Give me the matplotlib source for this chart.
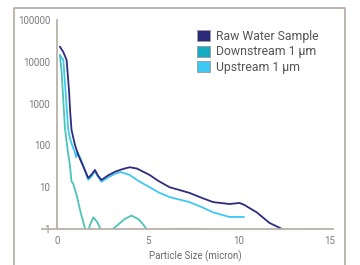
import matplotlib
matplotlib.use("Agg")
import matplotlib.pyplot as plt
from matplotlib.lines import Line2D
from matplotlib.patches import Patch
import numpy as np

plt.rcParams['font.family'] = ['Roboto', 'DejaVu Sans']

raw_x = [0.16, 0.35, 0.53, 0.66, 0.73, 0.8, 0.99, 1.17, 1.4, 1.72, 1.9, 2.09, 2.25, 2.45,
         2.8, 3.2, 3.6, 4.0, 4.4, 5.1, 5.6, 6.2, 7.3, 8.0, 8.6, 9.5, 10.05, 10.3, 11.0, 11.7, 12.4]
raw_y = [23000, 17000, 11000, 2100, 600, 234, 102, 59, 35, 16.6, 20, 25.8, 19, 14.9,
         19, 23.5, 27, 30, 28, 19.6, 14, 10, 7.3, 5.5, 4.4, 3.96, 4.2, 3.8, 2.5, 1.4, 1.0]

up_x = [0.16, 0.35, 0.53, 0.62, 0.75, 0.9, 0.97, 1.05, 1.13, 1.3, 1.45, 1.72, 1.9, 2.09,
        2.25, 2.45, 2.8, 3.2, 3.5, 4.0, 4.5, 5.1, 5.6, 6.2, 7.3, 8.0, 8.6, 9.5, 10.3]
up_y = [14500, 11000, 840, 234, 130, 85, 72, 52, 68, 48, 32, 15, 18, 24,
        18, 13.5, 17, 21, 23, 19.6, 14, 10, 7.5, 5.8, 4.4, 3.3, 2.5, 1.94, 1.94]

down_x = [0.16, 0.26, 0.44, 0.6, 0.71, 0.8, 0.88, 1.08, 1.3, 1.55, 1.65, 1.8, 2.0, 2.2,
          2.45, 2.6, 2.9, 3.0, 3.3, 3.7, 4.1, 4.5, 4.8, 5.0, 5.3, 5.8, 5.9, 8.2, 8.3,
          13.8, 13.95, 14.35, 14.5]
down_y = [14500, 5300, 250, 70, 34, 13.5, 12.6, 6.5, 2.5, 1.0, 0.6, 1.2, 1.9, 1.5,
          0.9, 0.5, 0.5, 0.95, 1.2, 1.7, 2.1, 1.7, 1.2, 0.9, 0.5, 0.5, 1.0, 1.0, 0.5,
          0.5, 1.0, 1.0, 0.5]

labels = ["Raw Water Sample", "Downstream 1 \u00b5m", "Upstream 1 \u00b5m"]
legend_colors = ["#2b2a78", "#16abc2", "#3ec8f4"]
line_colors = ["#2e2c7e", "#4ec3b6", "#3ec8f4"]
xticks = [0, 5, 10, 15]
yticks = [1, 10, 100, 1000, 10000, 100000]

W, H = 360, 265
fig = plt.figure(figsize=(W / 100, H / 100), dpi=100)
ax = fig.add_axes([57 / W, 36 / H, (333 - 57) / W, (229 - 20) / H])

ax.plot(up_x, up_y, color=line_colors[2], lw=1.3, solid_capstyle='round')
ax.plot(down_x, down_y, color=line_colors[1], lw=1.3, solid_capstyle='round')
ax.plot(raw_x, raw_y, color=line_colors[0], lw=1.3, solid_capstyle='round')

ax.set_yscale('log')
ax.set_ylim(1, 100000)
ax.set_xlim(0, 15.2)
ax.set_yticks(yticks)
ax.set_yticklabels([str(v) for v in yticks])
ax.minorticks_off()
ax.set_xticks(xticks)
ax.set_xticklabels([str(v) for v in xticks])
ax.tick_params(length=0, labelsize=7, labelcolor="#7a7a7a", pad=5)
for s in ['top', 'right']:
    ax.spines[s].set_visible(False)
axis_col = "#b9b2a8"
ax.spines['left'].set_color(axis_col)
ax.spines['bottom'].set_color(axis_col)
ax.spines['left'].set_linewidth(1.3)
ax.spines['bottom'].set_linewidth(1.3)
ax.add_line(Line2D([-0.055, 0], [0, 0], transform=ax.transAxes, color=axis_col,
                   lw=1.3, clip_on=False))
ax.set_xlabel("Particle Size (micron)", fontsize=7, color="#6a6a6a", labelpad=3)

handles = [Patch(facecolor=c, edgecolor="#9a9a9a", lw=0.6) for c in legend_colors]
ax.legend(handles, labels, loc='upper left', bbox_to_anchor=(197 / W, 1 - 30 / H),
          bbox_transform=fig.transFigure, frameon=False, fontsize=8.8,
          handlelength=1.1, handleheight=1.0, handletextpad=0.45, labelspacing=0.2,
          borderpad=0, borderaxespad=0, labelcolor="#555555")

frame_col = "#b3aba0"
fx0, fx1, fy0 = 14 / W, 345 / W, 1 - 8 / H
fig.add_artist(Line2D([fx0, fx0, fx1, fx1], [0, fy0, fy0, 0], transform=fig.transFigure,
                      color=frame_col, lw=1.2))

fig.savefig("out.png", dpi=100)
